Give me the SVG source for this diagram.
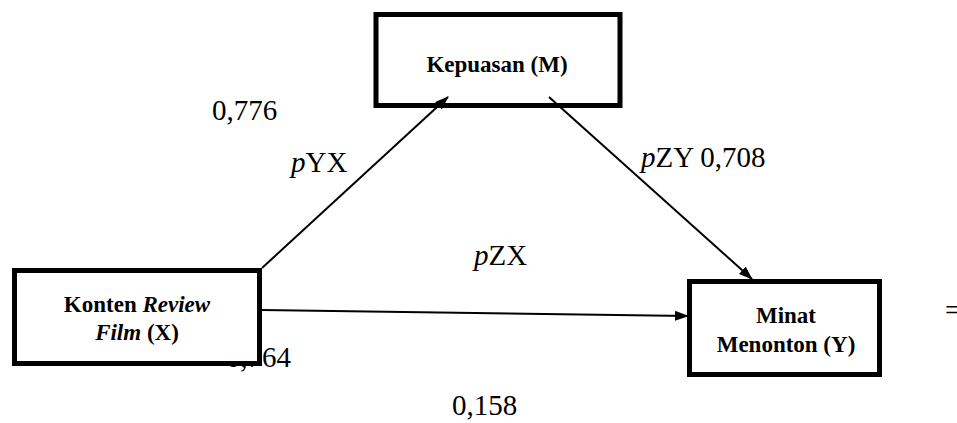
<svg xmlns="http://www.w3.org/2000/svg" width="957" height="423" viewBox="0 0 957 423">
<style>
.box{fill:#fff;stroke:#000;stroke-width:5}
.lbl{font-family:"Liberation Serif","Times New Roman",serif;font-weight:bold;font-size:23px;fill:#000;text-anchor:middle}
.num{font-family:"Liberation Serif","Times New Roman",serif;font-size:29px;fill:#000}
.conn{stroke:#000;stroke-width:2;fill:none;marker-end:url(#ah)}
</style>
<defs>
<marker id="ah" markerWidth="14" markerHeight="10" refX="13" refY="5" orient="auto" markerUnits="userSpaceOnUse">
<path d="M0,0 L14,5 L0,10 Z" fill="#000"/>
</marker>
</defs>
<rect width="957" height="423" fill="#fff"/>
<text class="num" x="291" y="367" text-anchor="end">0,764</text>
<g id="node-M">
<rect class="box" x="376" y="14.5" width="244" height="91"/>
<text class="lbl" x="497" y="72">Kepuasan (M)</text>
</g>
<g id="node-X">
<rect class="box" x="14.5" y="270.5" width="245" height="93"/>
<text class="lbl" x="137" y="312">Konten <tspan font-style="italic">Review</tspan></text>
<text class="lbl" x="137" y="340"><tspan font-style="italic">Film</tspan> (X)</text>
</g>
<g id="node-Y">
<rect class="box" x="689.5" y="281.5" width="190" height="93"/>
<text class="lbl" x="786" y="323">Minat</text>
<text class="lbl" x="786" y="352">Menonton (Y)</text>
</g>
<g id="connectors">
<line class="conn" x1="262" y1="268" x2="448" y2="97"/>
<line class="conn" x1="549" y1="97" x2="752" y2="279"/>
<line class="conn" x1="262" y1="310" x2="688" y2="316"/>
</g>
<g id="labels">
<text class="num" x="212" y="120">0,776</text>
<text class="num" x="291" y="172"><tspan font-style="italic">p</tspan>YX</text>
<text class="num" x="641" y="167"><tspan font-style="italic">p</tspan>ZY 0,708</text>
<text class="num" x="474" y="265"><tspan font-style="italic">p</tspan>ZX</text>
<text class="num" x="452" y="415">0,158</text>
<text class="num" x="945" y="320">=</text>
</g>
</svg>
